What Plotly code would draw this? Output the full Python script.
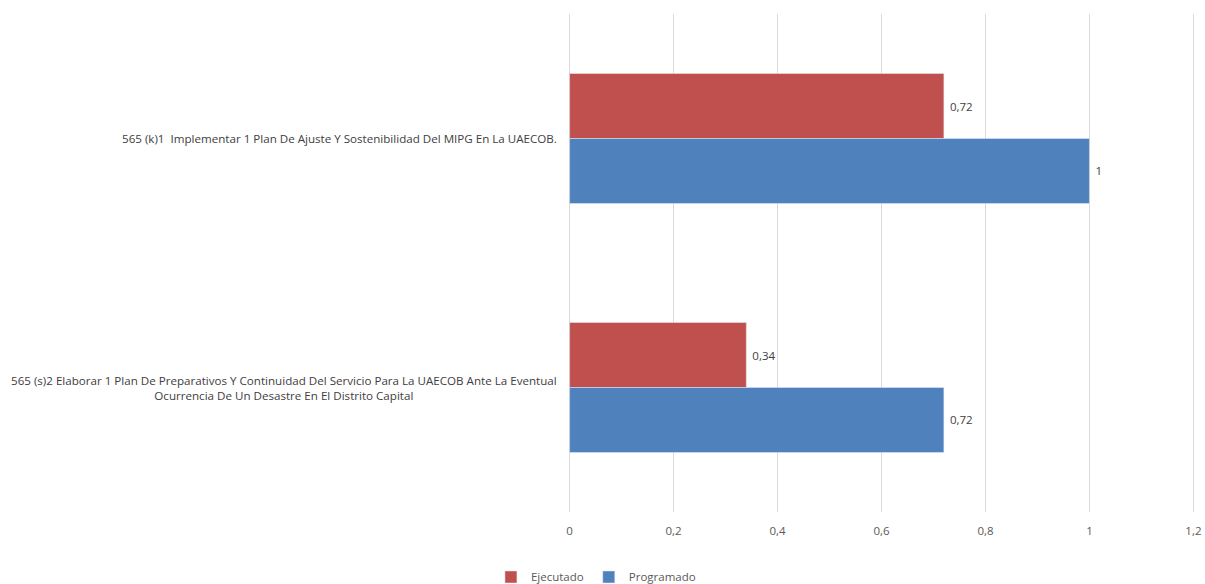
import plotly.graph_objects as go

categories = [
    "565 (k)1  Implementar 1 Plan De Ajuste Y Sostenibilidad Del MIPG En La UAECOB.",
    "565 (s)2 Elaborar 1 Plan De Preparativos Y Continuidad Del Servicio Para La UAECOB Ante La Eventual<br>Ocurrencia De Un Desastre En El Distrito Capital",
]
cat_keys = ["k1", "s2"]
ejecutado = [0.72, 0.34]
programado = [1, 0.72]
tick_vals = [0, 0.2, 0.4, 0.6, 0.8, 1, 1.2]

FONT = "Open Sans, Liberation Sans, sans-serif"

def fmt(v):
    return " " + str(v).replace(".", ",")

fig = go.Figure()
fig.add_trace(go.Bar(
    y=cat_keys, x=ejecutado, orientation="h", name="Ejecutado",
    marker=dict(color="#C0504D"),
    text=[fmt(v) for v in ejecutado], textposition="outside",
    textfont=dict(size=11.5, color="#404040", family=FONT), cliponaxis=False,
))
fig.add_trace(go.Bar(
    y=cat_keys, x=programado, orientation="h", name="Programado",
    marker=dict(color="#4F81BD"),
    text=[fmt(v) for v in programado], textposition="outside",
    textfont=dict(size=11.5, color="#404040", family=FONT), cliponaxis=False,
))

for key, label in zip(cat_keys, categories):
    fig.add_annotation(
        x=0, xref="paper", y=key, yref="y", text=label, showarrow=False,
        xanchor="right", align="center", xshift=-8,
        font=dict(size=11.6, color="#404040", family=FONT),
    )

fig.update_layout(
    width=1205, height=584,
    margin=dict(l=567, r=9, t=14, b=72, autoexpand=False),
    paper_bgcolor="white", plot_bgcolor="white",
    barmode="group", bargap=0.478, bargroupgap=0,
    separators=",.",
    font=dict(family=FONT, size=11.5, color="#595959"),
    xaxis=dict(
        range=[-0.005, 1.205], tickvals=tick_vals, showgrid=True, gridcolor="#D9D9D9",
        gridwidth=1, zeroline=False, showline=False, ticks="",
        tickfont=dict(size=11.5, color="#595959"), ticklabelstandoff=10,
        automargin=False, ticklabeloverflow="allow",
    ),
    yaxis=dict(
        autorange="reversed", showticklabels=False, showgrid=False,
        zeroline=False, showline=False, ticks="", automargin=False,
    ),
    legend=dict(
        orientation="h", xref="paper", yref="paper",
        x=0.046, xanchor="center", y=-0.1305, yanchor="middle",
        font=dict(size=11.5, color="#595959"),
        itemwidth=30, traceorder="normal",
    ),
    showlegend=True,
)

fig.write_html("out.html")
